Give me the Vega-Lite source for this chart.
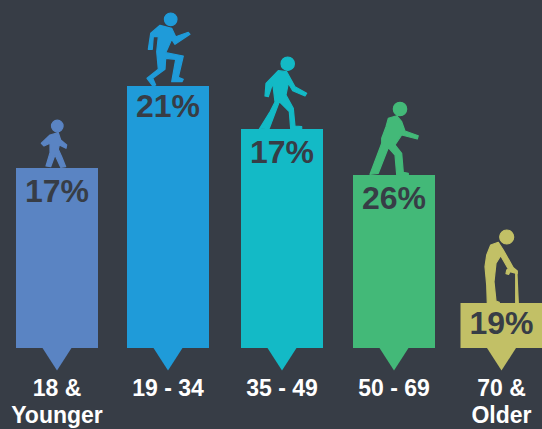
{"$schema":"https://vega.github.io/schema/vega-lite/v6.json","width":542,"height":429,"padding":0,"autosize":{"type":"fit","contains":"padding"},"background":"#373d46","config":{"view":{"stroke":null}},
"data":{"values":[
{"age":"18 &\nYounger","order":1,"share":"17%","height":180},
{"age":"19 - 34","order":2,"share":"21%","height":262},
{"age":"35 - 49","order":3,"share":"17%","height":219},
{"age":"50 - 69","order":4,"share":"26%","height":173},
{"age":"70 &\nOlder","order":5,"share":"19%","height":45}]},
"encoding":{"x":{"field":"order","type":"quantitative","axis":null,"scale":{"domain":[1,2,3,4,5],"range":[57,168,282,394,501.5],"padding":0}}},
"layer":[
{"mark":{"type":"bar","size":82,"orient":"vertical"},"encoding":{"y":{"field":"height","type":"quantitative","axis":null,"scale":{"domain":[-81,348],"nice":false,"zero":false}},"color":{"field":"order","type":"nominal","legend":null,"scale":{"domain":[1,2,3,4,5],"range":["#5a84c3","#1f9bd9","#13bac6","#43b978","#c2c066"]}}}},
{"mark":{"type":"point","filled":true,"opacity":1,"size":4,"shape":"M-14.5,0L14.5,0L0,22.5Z"},"encoding":{"y":{"datum":0,"type":"quantitative"},"color":{"field":"order","type":"nominal","legend":null}}},
{"transform":[{"filter":"datum.order==1"}],"mark":{"type":"point","filled":true,"opacity":1,"size":4,"strokeWidth":1.2,"strokeJoin":"round","shape":"M-5.5,-42a5.8,5.8 0 1,0 11.6,0a5.8,5.8 0 1,0 -11.6,0ZM-7,-33L1.3,-35.3L3.7,-28L9.7,-23L9,-19.7L2.3,-23L1.3,-18.7L4.7,-11.3L8.7,-1.3L3.7,-0.7L-2,-13L-6.3,-1.3L-11,-2L-7,-15.3L-7,-24.7L-13,-22L-15.7,-24.7Z"},"encoding":{"y":{"field":"height","type":"quantitative"},"color":{"field":"order","type":"nominal","legend":null},"stroke":{"field":"order","type":"nominal","legend":null,"scale":{"domain":[1,2,3,4,5],"range":["#5a84c3","#1f9bd9","#13bac6","#43b978","#c2c066"]}}}},
{"transform":[{"filter":"datum.order==2"}],"mark":{"type":"point","filled":true,"opacity":1,"size":4,"strokeWidth":1.2,"strokeJoin":"round","shape":"M-3.6,-66.7a6.3,6.3 0 1,0 12.6,0a6.3,6.3 0 1,0 -12.6,0ZM-17.3,-52.7L-8,-60.7L3.7,-57.7L7.7,-49.3L20.3,-53.7L22,-51.7L7,-41.7L3.7,-46.7L-2.3,-33.3L15.3,-30L10.3,-8.7L15.3,-6.7L14,-4.3L3.7,-4.3L7.7,-26.7L-2.3,-27.7L-3,-16.7L-15.3,-7.7L-12.3,-1L-15.3,0L-21,-7.7L-9.7,-16.7L-11.3,-34.3L-9.7,-49.3L-14.7,-49.3L-15.7,-36.7L-19.7,-36.7Z"},"encoding":{"y":{"field":"height","type":"quantitative"},"color":{"field":"order","type":"nominal","legend":null},"stroke":{"field":"order","type":"nominal","legend":null}}},
{"transform":[{"filter":"datum.order==3"}],"mark":{"type":"point","filled":true,"opacity":1,"size":4,"strokeWidth":1.2,"strokeJoin":"round","shape":"M-1,-65.3a6.7,6.7 0 1,0 13.4,0a6.7,6.7 0 1,0 -13.4,0ZM-16,-45.7L-3.7,-58.3L4.7,-57.3L13,-42.3L24.7,-35.7L23,-33L10.7,-38.3L6.3,-45.7L4,-34L11.3,-20.7L13,-3L19.7,-2.3L19.7,0L8.7,0L7.3,-17.3L-2.7,-27.3L-12.7,-0.7L-22.7,0L-12,-17.3L-7,-27L-9.3,-45.7L-13.7,-32.3L-17,-33Z"},"encoding":{"y":{"field":"height","type":"quantitative"},"color":{"field":"order","type":"nominal","legend":null},"stroke":{"field":"order","type":"nominal","legend":null}}},
{"transform":[{"filter":"datum.order==4"}],"mark":{"type":"point","filled":true,"opacity":1,"size":4,"strokeWidth":1.2,"strokeJoin":"round","shape":"M-0.7,-66a6.7,6.7 0 1,0 13.4,0a6.7,6.7 0 1,0 -13.4,0ZM-5.7,-56.7L2.7,-59.3L7.7,-53.3L11,-44L24.3,-39.3L23.3,-36L7.7,-40L1,-30L7.7,-21.7L9.3,-2.7L14.3,-1.7L14.3,0L2.7,0L1,-20L-5.7,-27.3L-15.7,-1.7L-24,-0.7L-12.3,-31.7L-12.3,-36.7L-8,-48.3Z"},"encoding":{"y":{"field":"height","type":"quantitative"},"color":{"field":"order","type":"nominal","legend":null},"stroke":{"field":"order","type":"nominal","legend":null}}},
{"transform":[{"filter":"datum.order==5"}],"mark":{"type":"point","filled":true,"opacity":1,"size":4,"strokeWidth":1.2,"strokeJoin":"round","shape":"M-1.8,-66a7,7 0 1,0 14,0a7,7 0 1,0 -14,0ZM-14.8,-48L-10.8,-58L-3.2,-60.7L1.8,-53L11.8,-35.3L15.8,-32L15.8,-29.3L8.5,-31.3L7.2,-28.7L4.5,-29.3L5.2,-33L6.8,-34L-0.8,-47.3L-5.5,-39.7L-7.5,-21.3L-5.5,-2L-2.2,-0.7L-2.2,0L-14.2,0L-14.8,-18L-16.5,-36.3ZM14.2,-30.7L15.4,-30.7L16.8,0L14.2,0Z"},"encoding":{"y":{"field":"height","type":"quantitative"},"color":{"field":"order","type":"nominal","legend":null},"stroke":{"field":"order","type":"nominal","legend":null}}},
{"transform":[{"filter":"datum.order==1||datum.order==3||datum.order==4"}],"mark":{"type":"text","font":"Liberation Sans","fontWeight":"bold","fontSize":32,"color":"#373d46","baseline":"middle","align":"center","dy":23.5},"encoding":{"y":{"field":"height","type":"quantitative"},"text":{"field":"share","type":"nominal"}}},
{"transform":[{"filter":"datum.order==2||datum.order==5"}],"mark":{"type":"text","font":"Liberation Sans","fontWeight":"bold","fontSize":32,"color":"#373d46","baseline":"middle","align":"center","dy":21},"encoding":{"y":{"field":"height","type":"quantitative"},"text":{"field":"share","type":"nominal"}}},
{"mark":{"type":"text","font":"Liberation Sans","fontWeight":"bold","fontSize":23,"color":"#ffffff","baseline":"top","align":"center","lineBreak":"\n","lineHeight":27,"dy":30},"encoding":{"y":{"datum":0,"type":"quantitative"},"text":{"field":"age","type":"nominal"}}}
]}
